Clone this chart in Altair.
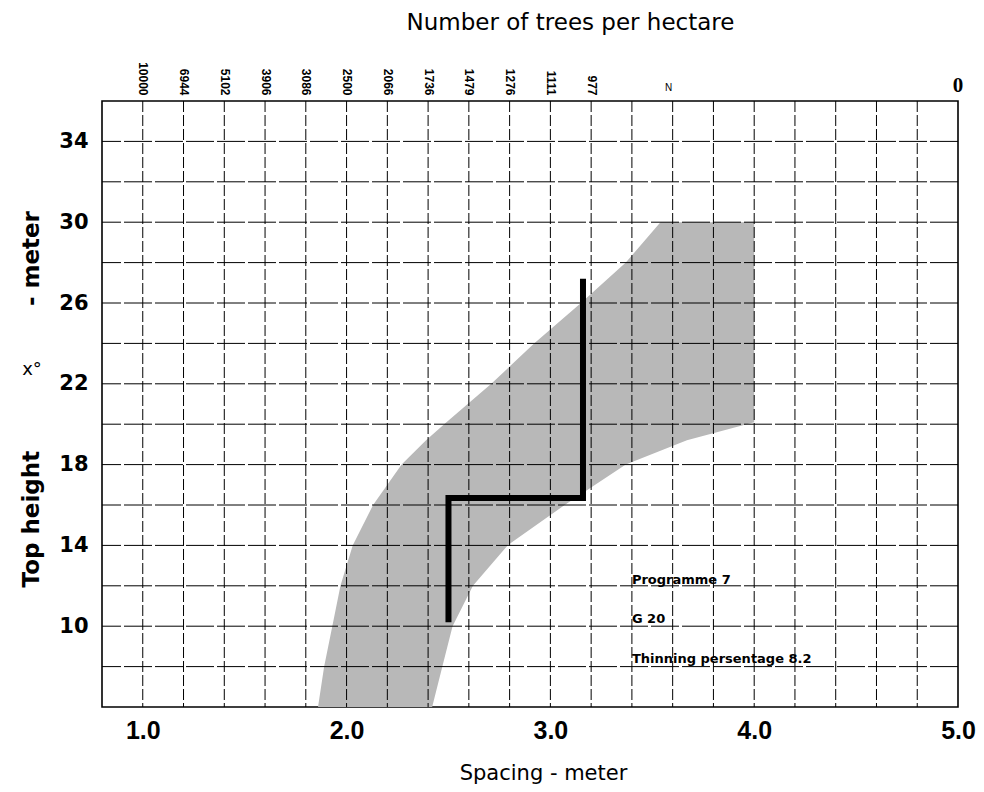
import altair as alt
import pandas as pd

# ---- data ----
spacing_ticks = [1.0, 1.2, 1.4, 1.6, 1.8, 2.0, 2.2, 2.4, 2.6, 2.8, 3.0, 3.2]
tree_labels = ["10000", "6944", "5102", "3906", "3086", "2500", "2066",
               "1736", "1479", "1276", "1111", "977"]
x_grid = [1.0, 1.2, 1.4, 1.6, 1.8, 2.0, 2.2, 2.4, 2.6, 2.8, 3.0, 3.2,
          3.4, 3.6, 3.8, 4.0, 4.2, 4.4, 4.6, 4.8]
y_grid = [8, 10, 12, 14, 16, 18, 20, 22, 24, 26, 28, 30, 32, 34]
x_label_values = [1.0, 2.0, 3.0, 4.0, 5.0]
y_label_values = [10, 14, 18, 22, 26, 30, 34]

band_height = [6, 8, 10, 12, 14, 16, 18, 19.2, 20.1, 22, 24, 26, 28, 30]
band_left = [1.86, 1.89, 1.93, 1.97, 2.03, 2.13, 2.27, 2.39, 2.49, 2.71, 2.92, 3.15, 3.37, 3.54]
band_right = [2.42, 2.47, 2.52, 2.62, 2.79, 3.07, 3.37, 3.67, 4.0, 4.0, 4.0, 4.0, 4.0, 4.0]

path_spacing = [2.5, 2.5, 3.16, 3.16]
path_height = [10.2, 16.35, 16.35, 27.2]

notes = ["Programme 7", "G 20", "Thinning persentage 8.2"]
note_height = [12.1, 10.15, 8.2]
note_spacing = [3.4, 3.4, 3.4]

ytitle_parts = ["Top height", "- meter"]
ytitle_height = [15.3, 28.2]

# ---- tables ----
band_df = pd.DataFrame({"h": band_height, "l": band_left, "r": band_right})
vgrid_df = pd.DataFrame({"gx": x_grid})
hgrid_df = pd.DataFrame({"gy": y_grid})
path_df = pd.DataFrame({"x": path_spacing, "y": path_height, "o": list(range(len(path_spacing)))})
notes_df = pd.DataFrame({"t": notes, "x": note_spacing, "y": note_height})
ytitle_df = pd.DataFrame({"t": ytitle_parts, "y": ytitle_height})

xs = alt.Scale(domain=[0.8, 5.0], nice=False, zero=False)
ys = alt.Scale(domain=[6, 36], nice=False, zero=False)

label_expr = "[" + ",".join("'" + s + "'" for s in tree_labels) + "][round((datum.value - 1) * 5)]"

band = alt.Chart(band_df).mark_area(orient="horizontal", color="#b8b8b8").encode(
    y=alt.Y("h:Q", scale=ys, axis=None),
    x=alt.X("l:Q", scale=xs, axis=None),
    x2="r:Q",
)

vgrid = alt.Chart(vgrid_df).mark_rule(color="black", strokeWidth=1, strokeDash=[11, 3]).encode(
    x=alt.X("gx:Q", scale=xs, axis=alt.Axis(
        orient="top", values=spacing_ticks, labelExpr=label_expr, labelAngle=90,
        labelAlign="right", labelBaseline="middle", labelFontSize=12,
        labelFontWeight="bold", labelFont="Liberation Sans", labelColor="black",
        labelPadding=6, ticks=False, domain=False, grid=False, labelFlush=False,
        labelOverlap=False, title="Number of trees per hectare",
        titleFont="DejaVu Sans", titleFontSize=23, titleFontWeight="normal",
        titleColor="black", titleX=468, titleY=-72, titleBaseline="alphabetic",
        titleAlign="center")),
)

hgrid = alt.Chart(hgrid_df).mark_rule(color="black", strokeWidth=1, strokeDash=[28, 3]).encode(
    y=alt.Y("gy:Q", scale=ys, axis=alt.Axis(
        orient="left", values=y_label_values, labelFontSize=21, labelFontWeight="bold",
        labelFont="DejaVu Sans", labelColor="black", ticks=False, domain=False,
        grid=False, labelPadding=14, title=None)),
)

path = alt.Chart(path_df).mark_line(color="black", strokeWidth=6, strokeJoin="miter").encode(
    x=alt.X("x:Q", scale=xs, axis=alt.Axis(
        orient="bottom", values=x_label_values, format=".1f", labelFontSize=25,
        labelFontWeight="bold", labelFont="Liberation Sans", labelColor="black",
        ticks=False, domain=False, grid=False, labelPadding=11, labelFlush=False,
        labelOverlap=False, title="Spacing - meter", titleFont="DejaVu Sans",
        titleFontSize=21, titleFontWeight="normal", titleColor="black",
        titleX=441, titleY=72, titleBaseline="alphabetic", titleAlign="center")),
    y=alt.Y("y:Q", scale=ys, axis=None),
    order=alt.Order("o:Q"),
)

note_text = alt.Chart(notes_df).mark_text(
    align="left", baseline="alphabetic", font="DejaVu Sans", fontSize=13,
    fontWeight="bold", color="black").encode(
    x=alt.X("x:Q", scale=xs, axis=None),
    y=alt.Y("y:Q", scale=ys, axis=None),
    text="t:N",
)

n_text = alt.Chart(pd.DataFrame({"t": ["N"], "x": [3.58]})).mark_text(
    align="center", baseline="middle", font="Liberation Sans", fontSize=10,
    color="black").encode(
    x=alt.X("x:Q", scale=xs, axis=None), y=alt.value(-13), text="t:N")

zero_text = alt.Chart(pd.DataFrame({"t": ["0"], "x": [5.0]})).mark_text(
    align="center", baseline="middle", font="Liberation Serif", fontSize=21,
    fontWeight="bold", color="black").encode(
    x=alt.X("x:Q", scale=xs, axis=None), y=alt.value(-15), text="t:N")

ytitle = alt.Chart(ytitle_df).mark_text(
    align="center", baseline="middle", angle=270, font="DejaVu Sans", fontSize=23,
    fontWeight="bold", color="black").encode(
    x=alt.value(-70), y=alt.Y("y:Q", scale=ys, axis=None), text="t:N")

xdeg = alt.Chart(pd.DataFrame({"t": ["x°"], "y": [22.7]})).mark_text(
    align="center", baseline="middle", font="DejaVu Sans", fontSize=18,
    color="black").encode(
    x=alt.value(-70), y=alt.Y("y:Q", scale=ys, axis=None), text="t:N")

chart = alt.layer(band, vgrid, hgrid, path, note_text, n_text, zero_text, ytitle, xdeg).resolve_axis(
    x="independent", y="independent"
).properties(
    width=856, height=606,
    padding={"left": 94, "top": 93, "right": 18, "bottom": 77},
    autosize=alt.AutoSizeParams(type="none"),
).configure_view(stroke="black", strokeWidth=1.6)

chart.save("out.html", embed_options={"renderer": "svg", "actions": False})
